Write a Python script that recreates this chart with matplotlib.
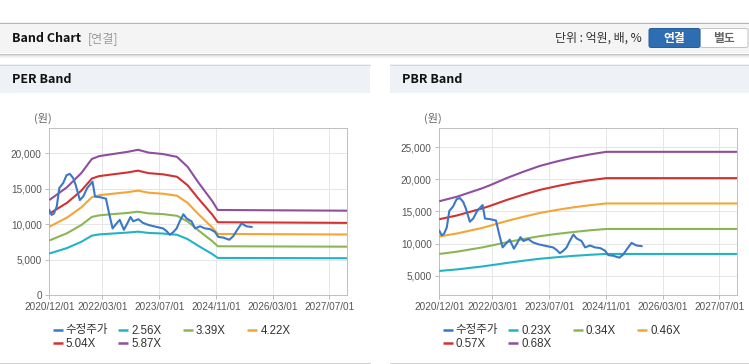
import matplotlib
matplotlib.use("Agg")
import matplotlib.pyplot as plt
import matplotlib.dates as mdates
from matplotlib.patches import Rectangle, FancyBboxPatch
from matplotlib.lines import Line2D
import pandas as pd

plt.rcParams['font.family'] = ['Liberation Sans', 'Noto Sans CJK KR']

# ---------------- data ----------------
price_dates = ['2020-12-01', '2020-12-21', '2021-01-10', '2021-02-03', '2021-02-25', '2021-03-30',
               '2021-04-28', '2021-05-26', '2021-06-24', '2021-07-16', '2021-08-20', '2021-09-18',
               '2021-10-22', '2021-12-07', '2021-12-28', '2022-02-10', '2022-04-01', '2022-04-28',
               '2022-05-28', '2022-07-01', '2022-07-28', '2022-09-02', '2022-10-01', '2022-10-28',
               '2022-11-22', '2023-01-04', '2023-02-10', '2023-03-28', '2023-06-10', '2023-08-04',
               '2023-09-04', '2023-10-01', '2023-11-01', '2023-11-28', '2023-12-25', '2024-01-25',
               '2024-02-22', '2024-04-04', '2024-05-04', '2024-06-16', '2024-07-28', '2024-09-10',
               '2024-10-22', '2024-11-19', '2025-01-01', '2025-02-22', '2025-03-28', '2025-05-01',
               '2025-06-07', '2025-07-19', '2025-09-01']
price_values = [12000, 11300, 11500, 12500, 15100, 15800, 16900, 17100, 16500, 15500, 13400, 13900,
                15100, 16000, 13900, 13800, 13600, 11500, 9400, 10100, 10600, 9200, 10100, 11000,
                10400, 10700, 10200, 9900, 9600, 9400, 9000, 8500, 8900, 9400, 10400, 11400,
                10800, 10400, 9400, 9700, 9400, 9300, 8900, 8200, 8100, 7800, 8300, 9200,
                10100, 9700, 9600]

per_band_dates = ['2020-12-01', '2021-05-01', '2021-09-01', '2021-12-01', '2022-02-01', '2022-06-01',
                  '2022-10-01', '2023-01-01', '2023-04-01', '2023-08-01', '2023-12-01', '2024-03-01',
                  '2024-06-01', '2024-10-01', '2024-11-15', '2027-12-01']
per_band_names = ['2.56X', '3.39X', '4.22X', '5.04X', '5.87X']
per_256 = [5850, 6620, 7500, 8380, 8550, 8680, 8810, 8940, 8760, 8680, 8500, 7890, 6940, 5760, 5230, 5190]
per_339 = [7690, 8710, 9870, 11020, 11240, 11420, 11580, 11760, 11520, 11420, 11180, 10380, 9130, 7570, 6880, 6820]
per_422 = [9630, 10920, 12360, 13800, 14080, 14300, 14510, 14730, 14440, 14300, 14010, 13010, 11430, 9490, 8620, 8540]
per_504 = [11480, 13000, 14720, 16440, 16780, 17040, 17290, 17550, 17200, 17040, 16690, 15500, 13620, 11300, 10270, 10180]
per_587 = [13400, 15200, 17200, 19200, 19600, 19900, 20200, 20500, 20100, 19900, 19500, 18100, 15900, 13200, 12000, 11900]

pbr_band_dates = ['2020-12-01', '2021-05-01', '2021-12-01', '2022-02-10', '2022-07-01', '2022-11-22',
                  '2023-04-12', '2023-09-04', '2024-01-25', '2024-06-16', '2024-11-01', '2027-12-01']
pbr_band_names = ['0.23X', '0.34X', '0.46X', '0.57X', '0.68X']
pbr_023 = [5730, 5970, 6420, 6600, 6970, 7320, 7630, 7870, 8080, 8250, 8380, 8380]
pbr_034 = [8380, 8730, 9390, 9650, 10200, 10700, 11150, 11500, 11800, 12070, 12270, 12270]
pbr_046 = [11100, 11570, 12430, 12780, 13510, 14170, 14770, 15240, 15650, 15980, 16250, 16250]
pbr_057 = [13800, 14380, 15460, 15880, 16790, 17620, 18370, 18950, 19460, 19870, 20200, 20200]
pbr_068 = [16600, 17300, 18600, 19100, 20200, 21200, 22100, 22800, 23400, 23900, 24300, 24300]

price_name = '수정주가'
x_tick_dates = ['2020-12-01', '2022-03-01', '2023-07-01', '2024-11-01', '2026-03-01', '2027-07-01']
x_tick_labels = ['2020/12/01', '2022/03/01', '2023/07/01', '2024/11/01', '2026/03/01', '2027/07/01']
per_yticks = [0, 5000, 10000, 15000, 20000]
per_ylabels = ['0', '5,000', '10,000', '15,000', '20,000']
pbr_yticks = [5000, 10000, 15000, 20000, 25000]
pbr_ylabels = ['5,000', '10,000', '15,000', '20,000', '25,000']

# ---------------- style ----------------
W, H = 749, 364
price_color = '#3b78c8'
band_colors = ['#22b4c5', '#8cb654', '#f3a635', '#d13232', '#8e4f9f']
PX = 0.72  # 1 px in points at dpi 100

fig = plt.figure(figsize=(W / 100, H / 100), dpi=100)
fig.patch.set_facecolor('white')

bg = fig.add_axes([0, 0, 1, 1])
bg.set_xlim(0, W)
bg.set_ylim(H, 0)
bg.axis('off')

# page header
bg.add_patch(Rectangle((0, 22), W, 31, fc='#f4f4f4', ec='none'))
bg.plot([0, W], [22.5, 22.5], color='#b4b4b4', lw=PX)
bg.plot([0, W], [53.5, 53.5], color='#c4c4c4', lw=PX)
for i, c in enumerate(['#dedede', '#ebebeb', '#f5f5f5']):
    bg.plot([0, W], [54.5 + i, 54.5 + i], color=c, lw=PX)
bg.text(12, 38.5, 'Band Chart', fontsize=9, fontweight='bold', color='#111111',
        family=['Noto Sans CJK KR'], va='center', ha='left')
bg.text(88, 38.5, '[연결]', fontsize=8.7, color='#999999', family=['Noto Sans CJK KR'],
        va='center', ha='left')
bg.text(642, 38.5, '단위 : 억원, 배, %', fontsize=8.6, color='#333333',
        family=['Noto Sans CJK KR'], va='center', ha='right')
bg.add_patch(FancyBboxPatch((700, 28.5), 48, 19, boxstyle='round,pad=0,rounding_size=2',
                            fc='white', ec='#c4c4c4', lw=PX))
bg.add_patch(FancyBboxPatch((649, 28.5), 51, 19, boxstyle='round,pad=0,rounding_size=2',
                            fc='#2f6db3', ec='#2a5f9e', lw=PX))
bg.text(674.5, 38.5, '연결', fontsize=8.5, fontweight='bold', color='white',
        family=['Noto Sans CJK KR'], va='center', ha='center')
bg.text(724, 38.5, '별도', fontsize=8.5, fontweight='bold', color='#666666',
        family=['Noto Sans CJK KR'], va='center', ha='center')

# panels
for x0, wd, title in [(0, 370, 'PER Band'), (390, 359, 'PBR Band')]:
    bg.add_patch(Rectangle((x0, 64), wd, 29, fc='#eef1f6', ec='none'))
    bg.plot([x0, x0 + wd], [64.5, 64.5], color='#d6d6d6', lw=PX)
    bg.plot([x0, x0 + wd], [362.5, 362.5], color='#d0d0d0', lw=PX)
    bg.text(x0 + 12, 79.5, title, fontsize=9, fontweight='bold', color='#111111',
            family=['Noto Sans CJK KR'], va='center', ha='left')
    bg.text(x0 + 43, 118, '(원)', fontsize=8, color='#666666',
            family=['Noto Sans CJK KR'], va='center', ha='center')


def make_axes(left_px, band_dates, bands, names, yticks, ylabels, ylim):
    ax = fig.add_axes([left_px / W, 1 - 295 / H, 298 / W, (295 - 128.3) / H])
    ax.set_facecolor('white')
    bd = pd.to_datetime(band_dates)
    for vals, col in zip(bands, band_colors):
        ax.plot(bd, vals, color=col, lw=1.5, solid_capstyle='butt', zorder=3)
    ax.plot(pd.to_datetime(price_dates), price_values, color=price_color, lw=1.5, zorder=4)
    ax.set_xlim(pd.Timestamp('2020-12-01'), pd.Timestamp('2027-12-01'))
    ax.set_ylim(*ylim)
    ax.set_xticks(pd.to_datetime(x_tick_dates))
    ax.set_xticklabels(x_tick_labels)
    ax.set_yticks(yticks)
    ax.set_yticklabels(ylabels)
    ax.grid(True, color='#e6e6e6', lw=PX, zorder=0)
    ax.set_axisbelow(True)
    for s in ax.spines.values():
        s.set_color('#c0c0c0')
        s.set_linewidth(PX)
    ax.tick_params(axis='both', colors='#bdbdbd', labelcolor='#555555', labelsize=7.2,
                   length=3.2, width=PX)
    ax.tick_params(axis='y', pad=2.2)
    ax.tick_params(axis='x', pad=2.0)
    # legend (row-major, fixed column width)
    labels = [price_name] + names
    colors = [price_color] + band_colors
    col_x = [52.7, 118.3, 182.7, 247.3]
    row_y = [330, 343.3]
    for i, (lab, col) in enumerate(zip(labels, colors)):
        r, c = divmod(i, 4)
        x = left_px - 49.3 + col_x[c]
        y = row_y[r]
        bg.plot([x, x + 10], [y, y], color=col, lw=1.8, solid_capstyle='butt')
        bg.text(x + 13, y + 0.5, lab, fontsize=8.3, color='#333333', va='center', ha='left')
    return ax


make_axes(49.3, per_band_dates, [per_256, per_339, per_422, per_504, per_587], per_band_names,
          per_yticks, per_ylabels, (0, 23530))
make_axes(439.3, pbr_band_dates, [pbr_023, pbr_034, pbr_046, pbr_057, pbr_068], pbr_band_names,
          pbr_yticks, pbr_ylabels, (1980, 27970))

fig.savefig('out.png', dpi=100, facecolor='white')
